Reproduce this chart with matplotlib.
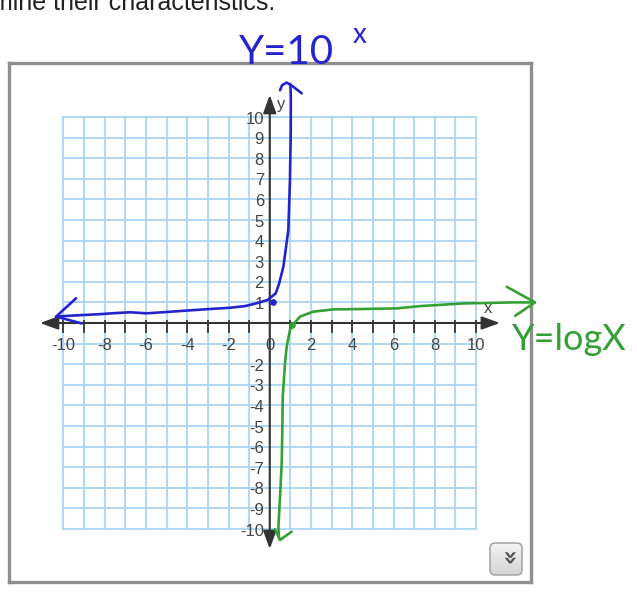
import numpy as np
import matplotlib
matplotlib.use("Agg")
import matplotlib.pyplot as plt
from matplotlib.patches import FancyBboxPatch

# axis ranges and labels
grid_min, grid_max = -10, 10
x_label_vals = [-10, -8, -6, -4, -2, 0, 2, 4, 6, 8, 10]
y_label_vals = [10, 9, 8, 7, 6, 5, 4, 3, 2, 1, -2, -3, -4, -5, -6, -7, -8, -9, -10]

# hand-drawn y = 10^x stroke
blue_x = [-10.36, -9.4, -8.39, -7.5, -6.78, -5.97, -5.2, -4.35, -3.2, -1.93, -1.2,
          -0.63, -0.1, 0.29, 0.45, 0.66, 0.9, 0.98, 1.02, 1.02, 1.0]
blue_y = [0.31, 0.37, 0.42, 0.48, 0.52, 0.47, 0.52, 0.58, 0.66, 0.74, 0.82,
          0.96, 1.12, 1.44, 1.9, 2.73, 4.51, 6.94, 9.37, 10.99, 11.6]
blue_hook_x = [0.5, 0.6, 0.82, 1.1, 1.55]
blue_hook_y = [11.3, 11.55, 11.67, 11.5, 11.15]
blue_head_x = [-9.39, -10.36, -9.12]
blue_head_y = [1.2, 0.31, -0.02]
blue_dot = (0.17, 1.03)

# hand-drawn y = log x stroke
green_x = [0.45, 0.42, 0.5, 0.58, 0.61, 0.63, 0.74, 0.82, 0.98, 1.11, 1.47, 2.11,
           3.08, 4.54, 6.16, 7.28, 9.38, 11.81, 12.86]
green_y = [-10.45, -9.9, -8.4, -6.8, -5.2, -3.58, -1.94, -1.15, -0.34, -0.1, 0.31, 0.55,
           0.66, 0.68, 0.71, 0.82, 0.95, 1.0, 1.0]
green_check_x = [0.25, 0.5, 1.06]
green_check_y = [-10.01, -10.53, -10.13]
green_head_x = [11.49, 12.86, 11.9]
green_head_y = [1.76, 1.0, 0.35]
green_dot = (1.06, -0.12)

BLUE = "#2424cf"
GREEN = "#35a035"
GRID = "#a9d4f3"
AXIS = "#333333"
LABEL = "#444444"

W, H = 637, 593
fig = plt.figure(figsize=(W / 100, H / 100), dpi=100)
fig.patch.set_facecolor("white")

# widget frame
frame = fig.add_axes([9 / W, 1 - 582 / H, 522 / W, 519 / H])
frame.set_xticks([]); frame.set_yticks([])
for s in frame.spines.values():
    s.set_color("#8f8f8f"); s.set_linewidth(2.4)
frame.set_zorder(0)

# main drawing area: 1 unit ~ 20.6 px, origin at (269.75, 323)
ax = fig.add_axes([0, 0, 1, 1])
ax.set_zorder(1)
ax.patch.set_alpha(0)
ax.set_xlim(-269.75 / 20.625, (W - 269.75) / 20.625)
ax.set_ylim(-(H - 323) / 20.6, 323 / 20.6)
ax.axis("off")

for v in range(grid_min, grid_max + 1):
    ax.plot([v, v], [grid_min, grid_max], color=GRID, lw=1.3, zorder=1)
    ax.plot([grid_min, grid_max], [v, v], color=GRID, lw=1.3, zorder=1)

arrow = dict(arrowstyle="<|-|>,head_length=0.55,head_width=0.2", color=AXIS, lw=1.5,
             shrinkA=0, shrinkB=0, mutation_scale=20)
ax.annotate("", xy=(11.16, 0), xytext=(-11.14, 0), arrowprops=arrow, zorder=3)
ax.annotate("", xy=(0, 11.07), xytext=(0, -10.97), arrowprops=arrow, zorder=3)

for v in range(grid_min, grid_max + 1):
    if v != 0:
        ax.plot([v, v], [0.08, -0.42], color=AXIS, lw=1.3, zorder=3)

lab_font = dict(family="Liberation Sans", fontsize=12, color=LABEL)
for v in x_label_vals:
    ax.text(v, -1.07, str(v), ha="center", va="center", zorder=4, **lab_font)
for v in y_label_vals:
    ax.text(-0.28, v - 0.1, str(v), ha="right", va="center", zorder=4, **lab_font)
ax.text(0.35, 10.6, "y", ha="left", va="center", zorder=4, **lab_font)
ax.text(10.6, 0.72, "x", ha="center", va="center", zorder=4, **lab_font)

# handwritten strokes
pen = dict(lw=1.9, solid_capstyle="round", solid_joinstyle="round", zorder=5)
ax.plot(blue_x, blue_y, color=BLUE, **pen)
ax.plot(blue_hook_x, blue_hook_y, color=BLUE, **pen)
ax.plot(blue_head_x, blue_head_y, color=BLUE, **pen)
ax.plot(*blue_dot, "o", color=BLUE, ms=3.8, zorder=5)

ax.plot(green_x, green_y, color=GREEN, **pen)
ax.plot(green_check_x, green_check_y, color=GREEN, **pen)
ax.plot(green_head_x, green_head_y, color=GREEN, **pen)
ax.plot(*green_dot, "o", color=GREEN, ms=3.8, zorder=5)

hand = dict(family="Lato", fontweight="normal", ha="left", va="baseline", zorder=5)
ax.text(-1.5, 12.55, "Y=10", color=BLUE, fontsize=29, **hand)
ax.text(4.0, 13.6, "x", color=BLUE, fontsize=20, **hand)
ax.text(11.75, -1.31, "Y=logX", color=GREEN, fontsize=26, **hand)

# page text above the widget
fig.text(275 / W, 1 - 10 / H, "mine their characteristics.", ha="right", va="baseline",
         family="Liberation Sans", fontsize=18, color="#222222")

# expand button
btn = fig.add_axes([489 / W, 1 - 576 / H, 34 / W, 34 / H])
btn.set_xlim(0, 1); btn.set_ylim(0, 1); btn.axis("off")
shade = np.linspace(0.96, 0.82, 64).reshape(-1, 1)
img = btn.imshow(shade, cmap="gray", vmin=0, vmax=1, extent=(0, 1, 0, 1), aspect="auto")
box = FancyBboxPatch((0.03, 0.03), 0.94, 0.94, boxstyle="round,pad=0,rounding_size=0.15",
                     fc="none", ec="#a8a8a8", lw=1.2)
btn.add_patch(box)
img.set_clip_path(box)
btn.text(0.5, 0.5, "»", rotation=-90, ha="center", va="center", fontsize=17,
         fontweight="bold", color="#555555", family="DejaVu Sans")

fig.savefig("out.png", dpi=100, facecolor="white")
